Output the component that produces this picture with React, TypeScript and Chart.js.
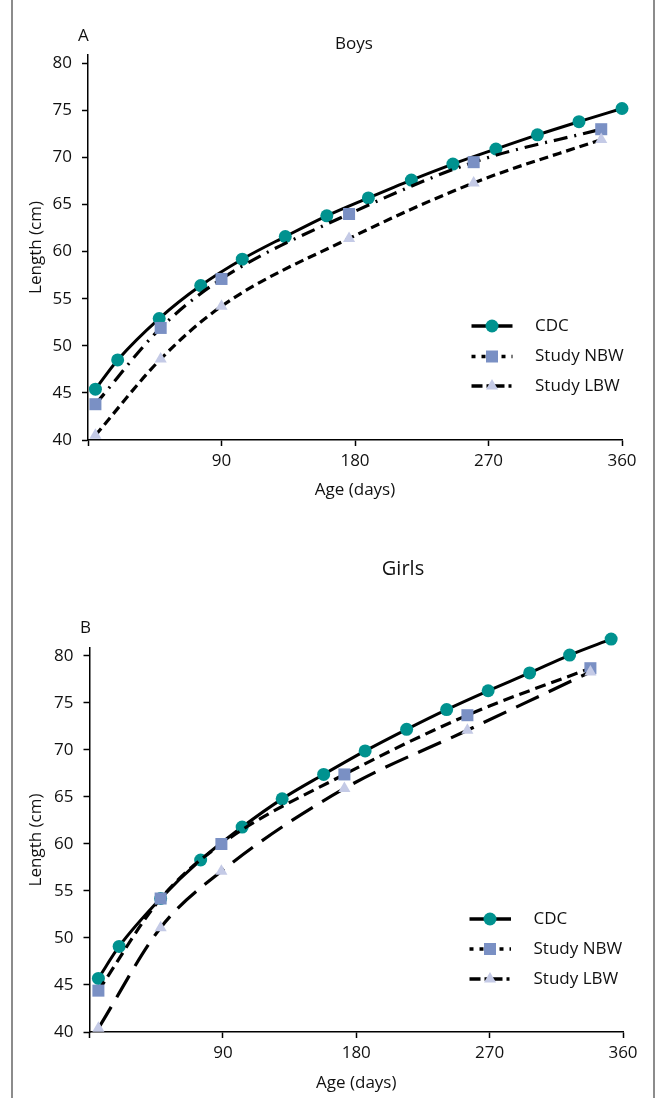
import React, { useEffect, useRef } from 'react';
import { Chart, registerables } from 'chart.js';

Chart.register(...registerables);

const FONT = '"Open Sans", "Noto Sans", sans-serif';
const TEAL = '#00928F';
const BLUE = '#7A90C4';
const LAVENDER = '#C4CAE6';
const INK = '#111111';
const CLEAR = 'rgba(0,0,0,0)';

// ---- Panel A: Boys ----
const boysCdcAge = [5, 20, 48, 76, 104, 133, 161, 189, 218, 246, 275, 303, 331, 360];
const boysCdc = [45.4, 48.5, 52.9, 56.4, 59.2, 61.6, 63.8, 65.7, 67.6, 69.3, 70.9, 72.4, 73.8, 75.2];
const boysStudyAge = [5, 49, 90, 176, 260, 346];
const boysNbw = [43.8, 51.9, 57.1, 64.0, 69.5, 73.0];
const boysLbw = [40.5, 48.6, 54.2, 61.4, 67.3, 71.9];

// ---- Panel B: Girls ----
const girlsCdcAge = [6, 20, 48, 75, 103, 130, 158, 186, 214, 241, 269, 297, 324, 352];
const girlsCdc = [45.7, 49.1, 54.2, 58.3, 61.8, 64.8, 67.4, 69.9, 72.2, 74.3, 76.3, 78.2, 80.1, 81.8];
const girlsStudyAge = [6, 48, 89, 172, 255, 338];
const girlsNbw = [44.4, 54.2, 60.0, 67.4, 73.7, 78.7];
const girlsLbw = [40.4, 51.1, 57.1, 65.9, 72.1, 78.3];

// ---- Axes ----
const xTicks = [0, 90, 180, 270, 360];
const yTicks = [40, 45, 50, 55, 60, 65, 70, 75, 80];
const seriesNames = ['CDC', 'Study NBW', 'Study LBW'];
const xTitle = 'Age (days)';
const yTitle = 'Length (cm)';

const pts = (xs: number[], ys: number[]) => xs.map((x, i) => ({ x, y: ys[i] }));

const drawMarker = (ctx: CanvasRenderingContext2D, kind: string, x: number, y: number) => {
  ctx.beginPath();
  if (kind === 'circle') {
    ctx.fillStyle = TEAL;
    ctx.arc(x, y, 6.5, 0, Math.PI * 2);
  } else if (kind === 'rect') {
    ctx.fillStyle = BLUE;
    ctx.rect(x - 6, y - 6, 12, 12);
  } else {
    ctx.fillStyle = LAVENDER;
    const r = 7;
    ctx.moveTo(x, y - r);
    ctx.lineTo(x + r * 0.866, y + r / 2);
    ctx.lineTo(x - r * 0.866, y + r / 2);
    ctx.closePath();
  }
  ctx.fill();
};

const annotatePlugin = {
  id: 'annotate',
  afterDraw(chart: any, _args: any, o: any) {
    const ctx: CanvasRenderingContext2D = chart.ctx;
    ctx.save();
    ctx.fillStyle = INK;
    ctx.textBaseline = 'alphabetic';
    ctx.textAlign = 'left';
    ctx.font = `17px ${FONT}`;
    ctx.fillText(o.letter, o.letterX, o.letterY);
    ctx.textAlign = 'center';
    ctx.font = `${o.titleSize}px ${FONT}`;
    ctx.fillText(o.title, o.titleX, o.titleY);

    const kinds = ['circle', 'rect', 'triangle'];
    const dashes = [[], [4, 6], [11, 4, 3, 4]];
    seriesNames.forEach((name, i) => {
      const y = o.rows[i];
      ctx.save();
      ctx.strokeStyle = '#000';
      ctx.lineWidth = 3.5;
      ctx.setLineDash(dashes[i]);
      ctx.beginPath();
      ctx.moveTo(o.x1, y);
      ctx.lineTo(o.x2, y);
      ctx.stroke();
      ctx.restore();
      drawMarker(ctx, kinds[i], o.mx, y);
      ctx.fillStyle = INK;
      ctx.font = `17px ${FONT}`;
      ctx.textAlign = 'left';
      ctx.textBaseline = 'middle';
      ctx.fillText(name, o.tx, y);
    });
    ctx.restore();
  },
};

type PanelCfg = {
  height: number;
  top: number;
  cdcAge: number[];
  cdc: number[];
  studyAge: number[];
  nbw: number[];
  lbw: number[];
  nbwDash: number[];
  lbwDash: number[];
  padTop: number;
  padRight: number;
  yWidth: number;
  xHeight: number;
  yMax: number;
  xTitlePad: number;
  annotate: any;
};

const buildConfig = (p: PanelCfg): any => ({
  type: 'line',
  data: {
    datasets: [
      {
        label: seriesNames[0],
        data: pts(p.cdcAge, p.cdc),
        borderColor: '#000',
        borderWidth: 3,
        pointStyle: 'circle',
        pointRadius: 6.5,
        pointBackgroundColor: TEAL,
        pointBorderColor: CLEAR,
        pointBorderWidth: 6,
        cubicInterpolationMode: 'monotone',
        clip: false,
        order: 3,
      },
      {
        label: seriesNames[1],
        data: pts(p.studyAge, p.nbw),
        borderColor: '#000',
        borderWidth: 3.2,
        borderDash: p.nbwDash,
        pointStyle: 'rect',
        pointRadius: 8.5,
        pointBackgroundColor: BLUE,
        pointBorderColor: CLEAR,
        pointBorderWidth: 6,
        cubicInterpolationMode: 'monotone',
        clip: false,
        order: 2,
      },
      {
        label: seriesNames[2],
        data: pts(p.studyAge, p.lbw),
        borderColor: '#000',
        borderWidth: 3.2,
        borderDash: p.lbwDash,
        pointStyle: 'triangle',
        pointRadius: 7,
        pointBackgroundColor: LAVENDER,
        pointBorderColor: CLEAR,
        pointBorderWidth: 6,
        cubicInterpolationMode: 'monotone',
        clip: false,
        order: 1,
      },
    ],
  },
  options: {
    responsive: false,
    animation: false,
    devicePixelRatio: 1,
    layout: { padding: { top: p.padTop, right: p.padRight, left: 0, bottom: 0 } },
    plugins: {
      legend: { display: false },
      tooltip: { enabled: false },
      title: { display: false },
      annotate: p.annotate,
    },
    scales: {
      x: {
        type: 'linear',
        min: 0,
        max: 360,
        afterBuildTicks: (s: any) => {
          s.ticks = xTicks.map((v) => ({ value: v }));
        },
        afterFit: (s: any) => {
          s.height = p.xHeight;
        },
        ticks: {
          callback: (v: number) => (v === 0 ? '' : String(v)),
          font: { family: FONT, size: 17 },
          color: INK,
          padding: 5,
          maxRotation: 0,
        },
        grid: {
          display: true,
          drawOnChartArea: false,
          drawTicks: true,
          tickLength: 6,
          tickWidth: 1.5,
          tickColor: '#000',
          color: '#000',
        },
        border: { display: true, color: '#000', width: 1.5 },
        title: {
          display: true,
          text: xTitle,
          font: { family: FONT, size: 17 },
          color: INK,
          padding: { top: 0, bottom: p.xTitlePad },
        },
      },
      y: {
        type: 'linear',
        min: 40,
        max: p.yMax,
        afterBuildTicks: (s: any) => {
          s.ticks = yTicks.map((v) => ({ value: v }));
        },
        afterFit: (s: any) => {
          s.width = p.yWidth;
        },
        ticks: {
          font: { family: FONT, size: 17 },
          color: INK,
          padding: 10,
        },
        grid: {
          display: true,
          drawOnChartArea: false,
          drawTicks: true,
          tickLength: 6,
          tickWidth: 1.5,
          tickColor: '#000',
          color: '#000',
        },
        border: { display: true, color: '#000', width: 1.5 },
        title: {
          display: true,
          text: yTitle,
          font: { family: FONT, size: 17 },
          color: INK,
          padding: { top: 26, bottom: 0 },
        },
      },
    },
  },
  plugins: [annotatePlugin],
});

const boysPanel: PanelCfg = {
  height: 520,
  top: 0,
  cdcAge: boysCdcAge,
  cdc: boysCdc,
  studyAge: boysStudyAge,
  nbw: boysNbw,
  lbw: boysLbw,
  nbwDash: [14, 7, 2, 7],
  lbwDash: [9, 5],
  padTop: 55,
  padRight: 38,
  yWidth: 88,
  xHeight: 80,
  yMax: 80.88,
  xTitlePad: 20,
  annotate: {
    letter: 'A', letterX: 78, letterY: 41,
    title: 'Boys', titleSize: 17, titleX: 354, titleY: 49,
    x1: 471.5, x2: 512.5, mx: 492, tx: 535, rows: [326, 356.5, 386],
  },
};

const girlsPanel: PanelCfg = {
  height: 589,
  top: 520,
  cdcAge: girlsCdcAge,
  cdc: girlsCdc,
  studyAge: girlsStudyAge,
  nbw: girlsNbw,
  lbw: girlsLbw,
  nbwDash: [11, 6],
  lbwDash: [25, 11],
  padTop: 128,
  padRight: 37,
  yWidth: 89.5,
  xHeight: 77,
  yMax: 80.85,
  xTitlePad: 16,
  annotate: {
    letter: 'B', letterX: 80, letterY: 113,
    title: 'Girls', titleSize: 20, titleX: 403, titleY: 54.5,
    x1: 469.5, x2: 511, mx: 490, tx: 533.5, rows: [399, 429, 459],
  },
};

function Panel({ cfg }: { cfg: PanelCfg }) {
  const ref = useRef<HTMLCanvasElement>(null);
  useEffect(() => {
    if (!ref.current) return;
    const chart = new Chart(ref.current, buildConfig(cfg));
    return () => chart.destroy();
  }, [cfg]);
  return (
    <canvas
      ref={ref}
      width={660}
      height={cfg.height}
      style={{ position: 'absolute', left: 0, top: cfg.top, width: 660, height: cfg.height }}
    />
  );
}

export default function App() {
  return (
    <div style={{ position: 'absolute', left: 0, top: 0, width: 660, height: 1109, background: '#fff', overflow: 'hidden' }}>
      <Panel cfg={boysPanel} />
      <Panel cfg={girlsPanel} />
      <div style={{ position: 'absolute', left: 11, top: 0, width: 2, height: 1098, background: '#8c8c8c' }} />
      <div style={{ position: 'absolute', left: 653, top: 0, width: 2, height: 1098, background: '#8c8c8c' }} />
    </div>
  );
}
